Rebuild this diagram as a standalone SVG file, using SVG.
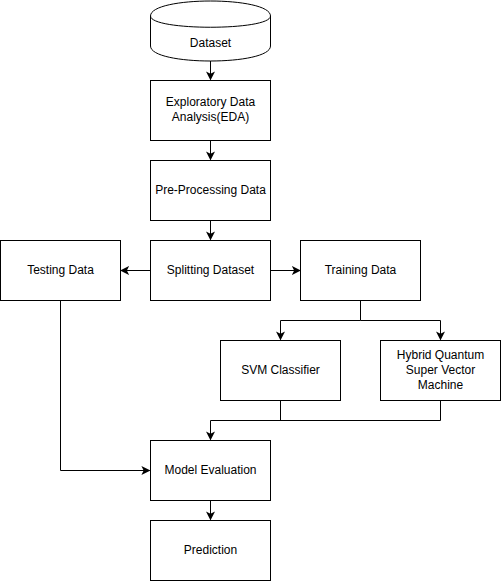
<svg xmlns="http://www.w3.org/2000/svg" width="501" height="581" viewBox="0 0 501 581">
<defs>
<marker id="arr" viewBox="0 0 10 10" refX="9" refY="5" markerWidth="9" markerHeight="9" markerUnits="userSpaceOnUse" orient="auto">
<path d="M0,0 L10,5 L0,10 L2.5,5 Z" fill="#000"/>
</marker>
<style>
.box{fill:#fff;stroke:#000;stroke-width:1}
.t{font-family:"Liberation Sans",Arial,sans-serif;font-size:12px;fill:#000;text-anchor:middle}
.c{fill:none;stroke:#000;stroke-width:1;marker-end:url(#arr)}
.l{fill:none;stroke:#000;stroke-width:1}
</style>
</defs>
<rect width="501" height="581" fill="#fff"/>
<g id="connectors">
<path class="c" d="M210.5,61 L210.5,79.5"/>
<path class="c" d="M210.5,140.5 L210.5,159.5"/>
<path class="c" d="M210.5,220.5 L210.5,239.5"/>
<path class="c" d="M150.5,270.5 L121,270.5"/>
<path class="c" d="M270.5,270.5 L300,270.5"/>
<path class="l" d="M360.5,300.5 L360.5,320.5"/>
<path class="c" d="M360.5,320.5 L280.5,320.5 L280.5,339.5"/>
<path class="c" d="M360.5,320.5 L440.5,320.5 L440.5,339.5"/>
<path class="l" d="M280.5,400.5 L280.5,420.5"/>
<path class="c" d="M440.5,400.5 L440.5,420.5 L210.5,420.5 L210.5,439.5"/>
<path class="c" d="M60.5,300.5 L60.5,470.5 L149.5,470.5"/>
<path class="c" d="M210.5,500.5 L210.5,519.5"/>
</g>
<g id="dataset">
<path class="box" d="M150.5,16 C150.5,-4 270.5,-4 270.5,16 L270.5,46 C270.5,66 150.5,66 150.5,46 Z"/>
<path class="l" d="M150.5,16 C150.5,31 270.5,31 270.5,16"/>
<text class="t" x="210.5" y="47">Dataset</text>
</g>
<g id="eda">
<rect class="box" x="150.5" y="80.5" width="120" height="60"/>
<text class="t" x="210.5" y="106">Exploratory Data</text>
<text class="t" x="210.5" y="121">Analysis(EDA)</text>
</g>
<g id="preprocessing">
<rect class="box" x="150.5" y="160.5" width="120" height="60"/>
<text class="t" x="210.5" y="193.5">Pre-Processing Data</text>
</g>
<g id="splitting">
<rect class="box" x="150.5" y="240.5" width="120" height="60"/>
<text class="t" x="210.5" y="273.5">Splitting Dataset</text>
</g>
<g id="testing">
<rect class="box" x="0.5" y="240.5" width="120" height="60"/>
<text class="t" x="60.5" y="273.5">Testing Data</text>
</g>
<g id="training">
<rect class="box" x="300.5" y="240.5" width="120" height="60"/>
<text class="t" x="360.5" y="273.5">Training Data</text>
</g>
<g id="svm">
<rect class="box" x="220.5" y="340.5" width="120" height="60"/>
<text class="t" x="280.5" y="373.5">SVM Classifier</text>
</g>
<g id="hybrid">
<rect class="box" x="380.5" y="340.5" width="120" height="60"/>
<text class="t" x="440.5" y="358.5">Hybrid Quantum</text>
<text class="t" x="440.5" y="373.5">Super Vector</text>
<text class="t" x="440.5" y="388.5">Machine</text>
</g>
<g id="evaluation">
<rect class="box" x="150.5" y="440.5" width="120" height="60"/>
<text class="t" x="210.5" y="473.5">Model Evaluation</text>
</g>
<g id="prediction">
<rect class="box" x="150.5" y="520.5" width="120" height="60"/>
<text class="t" x="210.5" y="553.5">Prediction</text>
</g>
</svg>
